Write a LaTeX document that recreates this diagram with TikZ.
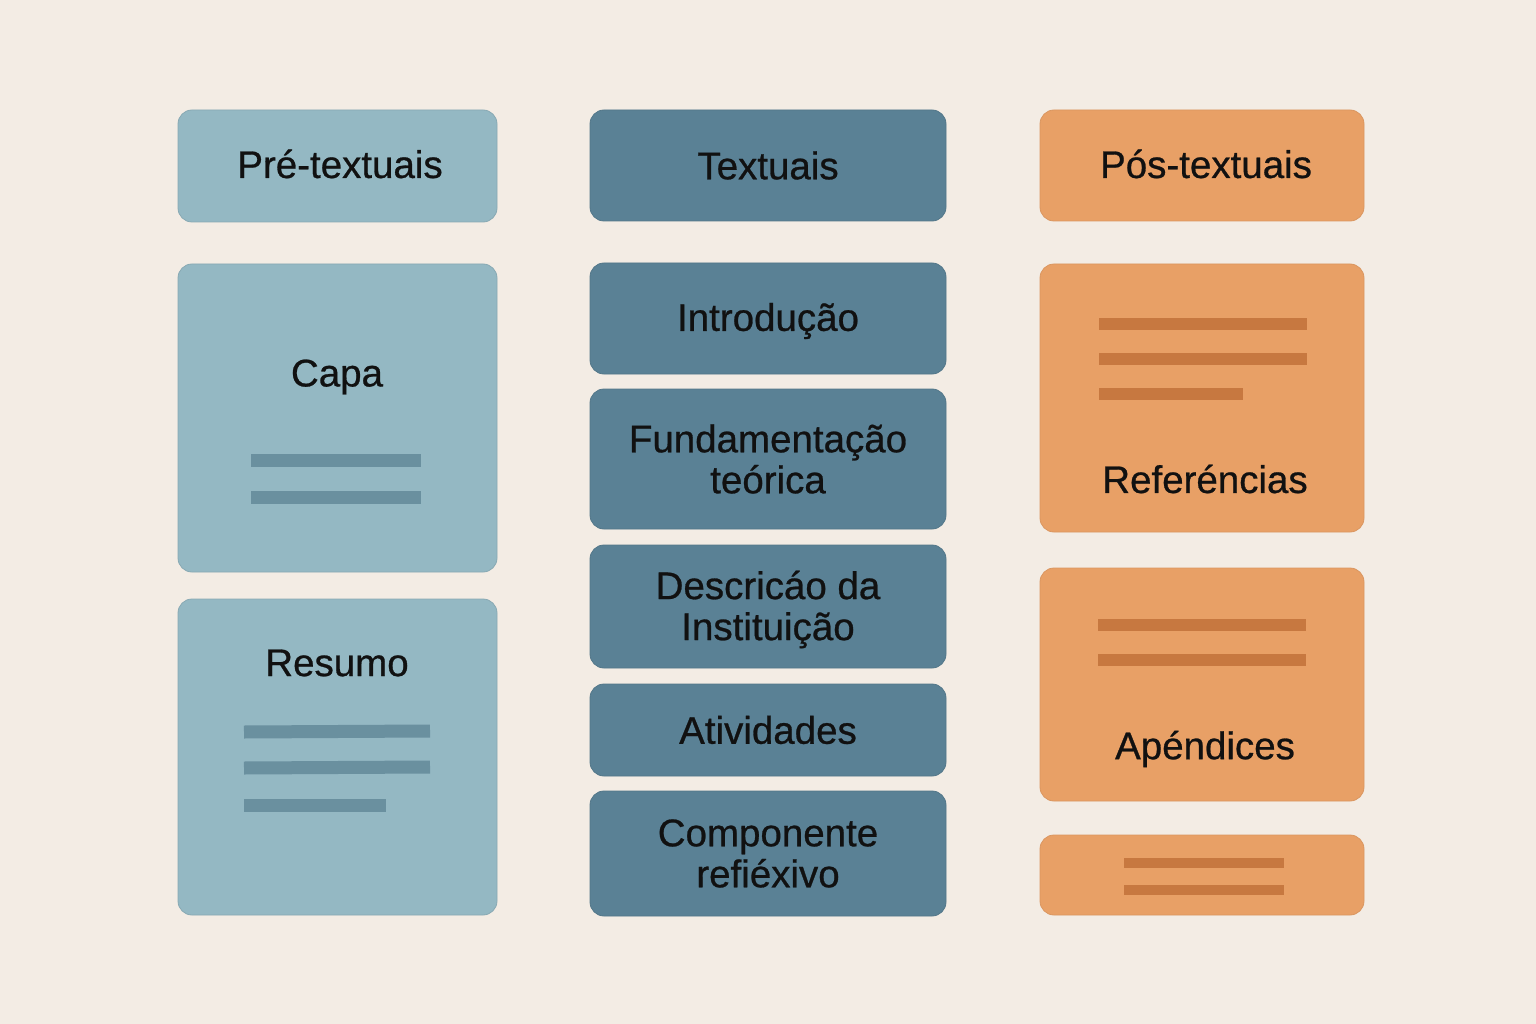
\documentclass[tikz,border=0pt]{standalone}
\usepackage{fontspec}
\setmainfont{Liberation Sans}
\newfontfamily\medfont{Liberation Sans}[FakeBold=0.7]
\definecolor{bgc}{HTML}{F3ECE4}
\definecolor{lblue}{HTML}{94B8C3}
\definecolor{dblue}{HTML}{5A8195}
\definecolor{orng}{HTML}{E8A066}
\definecolor{bbar}{HTML}{6A909F}
\definecolor{obar}{HTML}{C77840}
\definecolor{txt}{HTML}{111111}
\tikzset{
  card/.style={rounded corners=14pt, inner sep=0pt, line width=0.8pt},
  lcard/.style={card, fill=lblue, draw=lblue!92!black},
  dcard/.style={card, fill=dblue, draw=dblue!92!black, text=txt, align=center,
    font=\medfont\fontsize{38.5}{41}\selectfont},
  ocard/.style={card, fill=orng, draw=orng!94!black},
  lbl/.style={text=txt, inner sep=0pt, font=\medfont\fontsize{38.5}{41}\selectfont, align=center},
  bbarline/.style={draw=bbar, line width=13pt},
  obarline/.style={draw=obar, line width=12pt},
  osmall/.style={draw=obar, line width=10pt},
}
\begin{document}
\begin{tikzpicture}[x=1pt,y=-1pt]
\fill[bgc] (0,0) rectangle (1536,1024);
\useasboundingbox (0,0) rectangle (1536,1024);

% left column
\node[lcard, minimum width=319pt, minimum height=112pt] (pre) at (337.5,166) {};
\node[lbl] (preT) at (340,164) {Pré-textuais};
\node[lcard, minimum width=319pt, minimum height=308pt] (capa) at (337.5,418) {};
\node[lbl] (capaT) at (337,377) {Capa};
\draw[bbarline] (251,460) -- (421,460);
\draw[bbarline] (251,497) -- (421,497);
\node[lcard, minimum width=319pt, minimum height=316pt] (res) at (337.5,757) {};
\node[lbl] (resT) at (337,663) {Resumo};
\draw[bbarline] (244,732) -- (430,731);
\draw[bbarline] (244,768) -- (430,767);
\draw[bbarline] (244,805) -- (386,805);

% middle column
\node[dcard, minimum width=356pt, minimum height=111pt] (tex) at (768,165.5) {Textuais};
\node[dcard, minimum width=356pt, minimum height=111pt] (intro) at (768,318.5) {};
\node[lbl] (introT) at (768,321) {Introdução};
\node[dcard, minimum width=356pt, minimum height=140pt] (fund) at (768,459) {Fundamentação\\teórica};
\node[dcard, minimum width=356pt, minimum height=123pt] (desc) at (768,606.5) {};
\node[lbl] (descT) at (768,609.5) {Descricáo da\\Instituição};
\node[dcard, minimum width=356pt, minimum height=92pt] (ativ) at (768,730) {Atividades};
\node[dcard, minimum width=356pt, minimum height=125pt] (comp) at (768,853.5) {Componente\\refiéxivo};

% right column
\node[ocard, minimum width=324pt, minimum height=111pt] (pos) at (1202,165.5) {};
\node[lbl] (posT) at (1206,164) {Pós-textuais};
\node[ocard, minimum width=324pt, minimum height=268pt] (ref) at (1202,398) {};
\node[lbl] (refT) at (1205,479) {Referéncias};
\draw[obarline] (1099,324) -- (1307,324);
\draw[obarline] (1099,359) -- (1307,359);
\draw[obarline] (1099,394) -- (1243,394);
\node[ocard, minimum width=324pt, minimum height=233pt] (ape) at (1202,684.5) {};
\node[lbl] (apeT) at (1205,749) {Apéndices};
\draw[obarline] (1098,625) -- (1306,625);
\draw[obarline] (1098,660) -- (1306,660);
\node[ocard, minimum width=324pt, minimum height=80pt] (small) at (1202,875) {};
\draw[osmall] (1124,863) -- (1284,863);
\draw[osmall] (1124,890) -- (1284,890);
\end{tikzpicture}
\end{document}
